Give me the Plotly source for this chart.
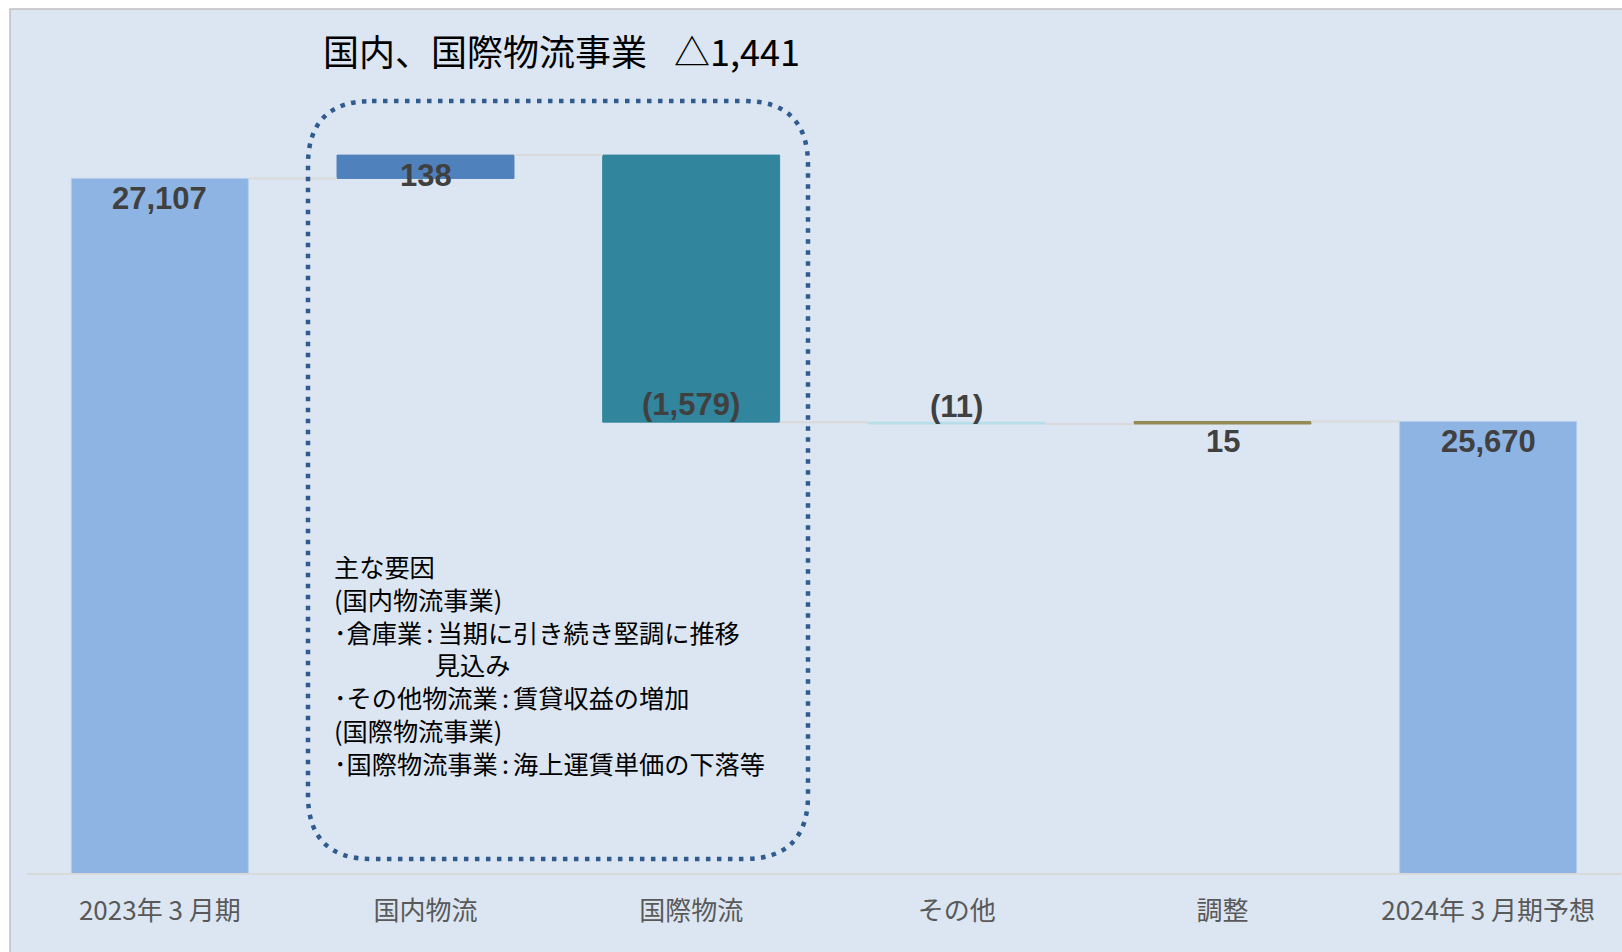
import plotly.graph_objects as go

# ---------------- data ----------------
categories = ["2023年 3 月期", "国内物流", "国際物流", "その他", "調整", "2024年 3 月期予想"]
measures = ["absolute", "relative", "relative", "relative", "relative", "total"]
values = [27107, 138, -1579, -11, 15, 25670]
labels = ["27,107", "138", "(1,579)", "(11)", "15", "25,670"]
bar_colors = ["#8eb4e3", "#4f81bd", "#31859c", "#b7dee8", "#948a54", "#8eb4e3"]
bar_edges = ["#b3cdee", "#4f81bd", "#31859c", "#b7dee8", "#948a54", "#b3cdee"]
title_text = "国内、国際物流事業\u2002\u2005△1,441"
note_lines = [
    "主な要因",
    "(国内物流事業)",
    "･倉庫業\u2006:\u2006当期に引き続き堅調に推移",
    "　　　　見込み",
    "･その他物流業\u2006:\u2006賃貸収益の増加",
    "(国際物流事業)",
    "･国際物流事業\u2006:\u2006海上運賃単価の下落等",
]

# ---------------- derived bar geometry (base / height) ----------------
bases, heights, ends = [], [], []
running = 0
for m, v in zip(measures, values):
    if m == "absolute":
        bases.append(0); heights.append(v); running = v
    elif m == "total":
        bases.append(0); heights.append(running)
    else:
        bases.append(running); heights.append(v); running += v
    ends.append(running)

W, H = 1622, 952
ML, MR, MT, MB = 27, 1, 10, 79
PW, PH = W - ML - MR, H - MT - MB
BAR_W = 0.666


def px(xp):
    return (xp - ML) / PW


def py(yp):
    return (H - MB - yp) / PH


xs = list(range(len(categories)))
fig = go.Figure()
fig.add_trace(go.Bar(
    x=xs, y=heights, base=bases, width=BAR_W,
    marker=dict(color=bar_colors, line=dict(color=bar_edges, width=1)),
    hoverinfo="skip", showlegend=False,
))

# connectors
cx, cy = [], []
for i in range(len(xs) - 1):
    cx += [xs[i] + BAR_W / 2, xs[i + 1] - BAR_W / 2, None]
    cy += [ends[i], ends[i], None]
fig.add_trace(go.Scatter(x=cx, y=cy, mode="lines", line=dict(color="#d9d9d9", width=2),
                         hoverinfo="skip", showlegend=False))

# data labels
label_font = dict(family="Liberation Sans Narrow, Arial Narrow, Liberation Sans, sans-serif",
                  size=31, color="#404040", weight="bold")
for i, (m, v) in enumerate(zip(measures, values)):
    up = (m != "relative") or v >= 0
    fig.add_annotation(x=xs[i], y=ends[i], text=labels[i], showarrow=False,
                       yshift=-20 if up else 18, font=label_font,
                       xanchor="center", yanchor="middle")

# title
fig.add_annotation(xref="paper", yref="paper", x=px(561), y=py(50), text=title_text,
                   showarrow=False, xanchor="center", yanchor="middle",
                   font=dict(family="Noto Sans CJK JP", size=36, color="#000000"))

# note block
fig.add_annotation(xref="paper", yref="paper", x=px(332), y=py(664), text="<br>".join(note_lines),
                   showarrow=False, xanchor="left", yanchor="middle", align="left",
                   font=dict(family="Noto Sans CJK JP", size=25.2, color="#000000"))

# background panel
fig.add_shape(type="rect", xref="paper", yref="paper", x0=px(10), x1=px(1640), y0=py(970), y1=py(9),
              fillcolor="#dce6f2", line=dict(color="#bfbfbf", width=1.5), layer="below")

# dotted rounded rectangle
x1, x2, y1, y2, r = 308, 808, 101, 859, 64
pts = (f"M {px(x1 + r)},{py(y1)} L {px(x2 - r)},{py(y1)} "
       f"Q {px(x2)},{py(y1)} {px(x2)},{py(y1 + r)} "
       f"L {px(x2)},{py(y2 - r)} Q {px(x2)},{py(y2)} {px(x2 - r)},{py(y2)} "
       f"L {px(x1 + r)},{py(y2)} Q {px(x1)},{py(y2)} {px(x1)},{py(y2 - r)} "
       f"L {px(x1)},{py(y1 + r)} Q {px(x1)},{py(y1)} {px(x1 + r)},{py(y1)} Z")
fig.add_shape(type="path", xref="paper", yref="paper", path=pts,
              line=dict(color="#2f5b8f", width=4.5, dash="4.5px,6.5px"), fillcolor="rgba(0,0,0,0)")

fig.update_layout(
    width=W, height=H, margin=dict(l=ML, r=MR, t=MT, b=MB),
    paper_bgcolor="#ffffff", plot_bgcolor="rgba(0,0,0,0)",
    xaxis=dict(range=[-0.5, 5.5], tickvals=xs, ticktext=categories, showgrid=False, zeroline=False,
               showline=True, linecolor="#d9d9d9", linewidth=2, ticks="", ticklabelstandoff=14,
               tickfont=dict(family="Noto Sans CJK JP", size=26, color="#595959"), fixedrange=True),
    yaxis=dict(range=[23000, 28103], showgrid=False, zeroline=False, showticklabels=False,
               showline=False, fixedrange=True),
    bargap=0.334, showlegend=False,
)
fig.write_html("out.html")
